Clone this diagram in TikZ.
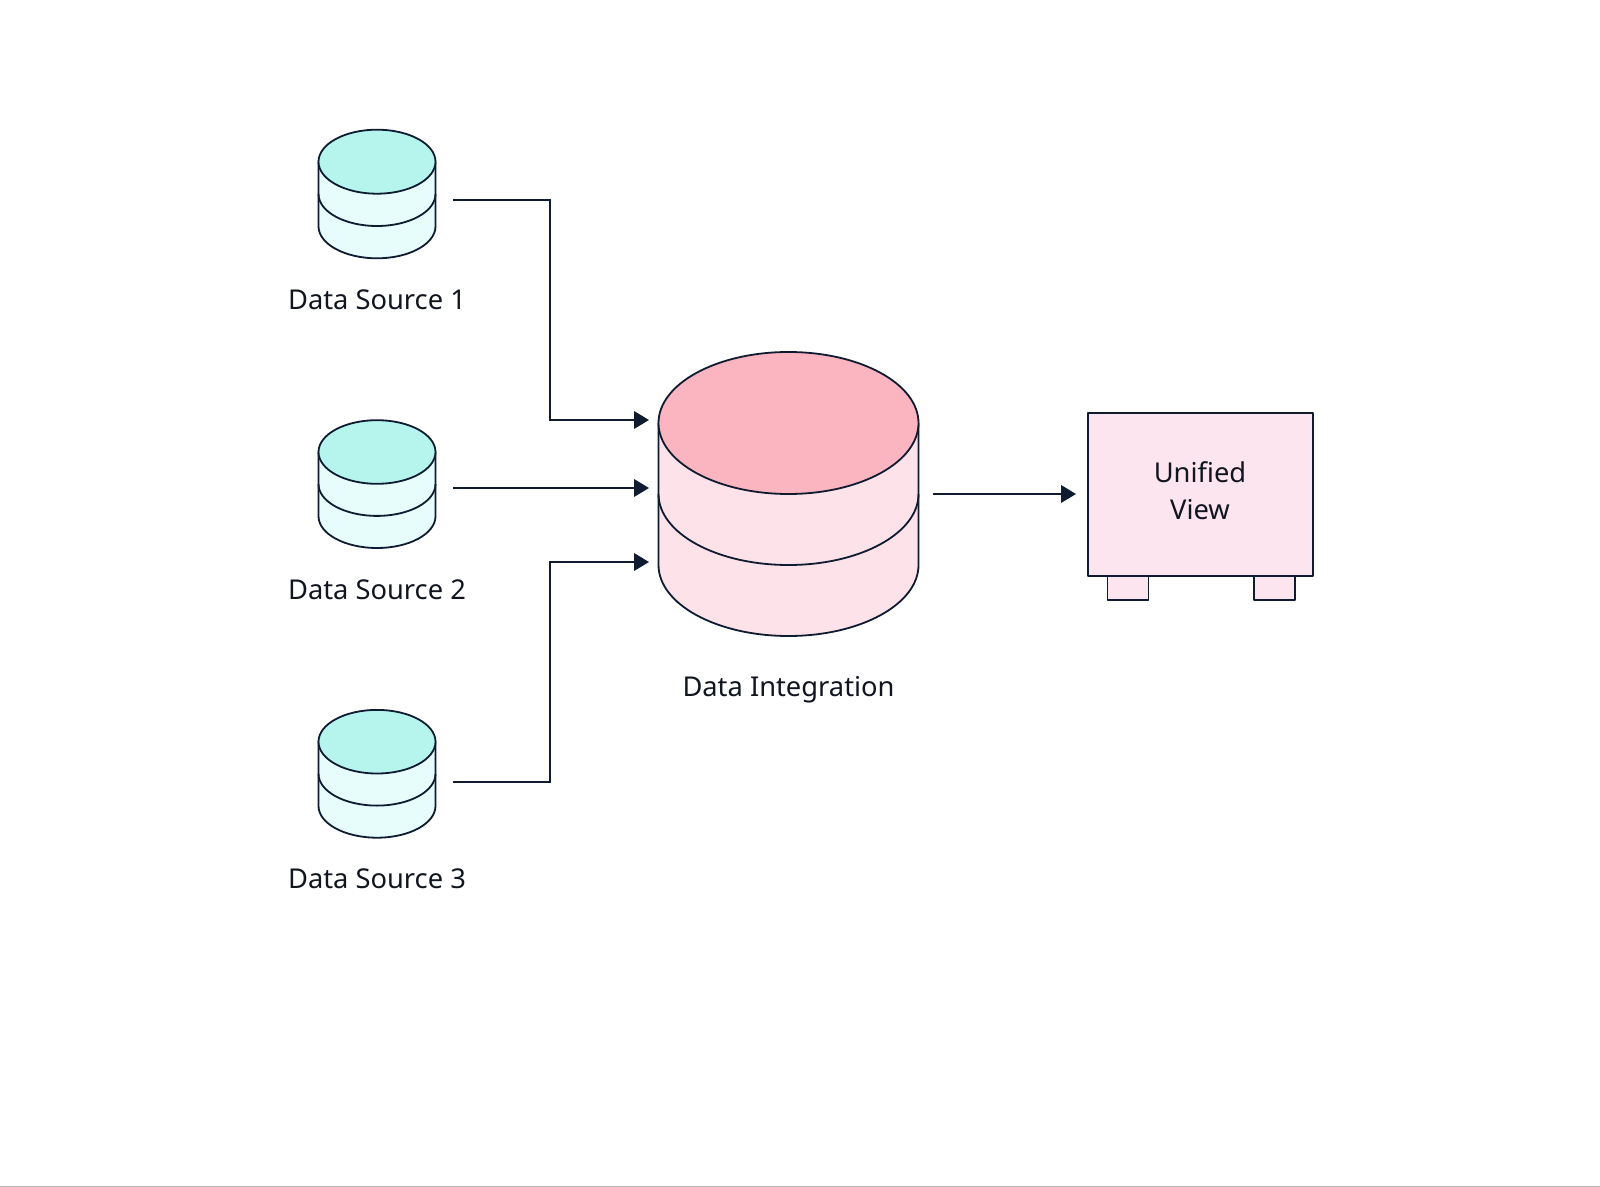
\documentclass[tikz,border=0pt]{standalone}
\usepackage{fontspec}
\setmainfont{Noto Sans}
\usetikzlibrary{arrows.meta}
\definecolor{inkline}{HTML}{0E1B30}
\definecolor{inktext}{HTML}{10151F}
\definecolor{tealtop}{HTML}{B6F5EE}
\definecolor{tealbody}{HTML}{E6FDFB}
\definecolor{rosetop}{HTML}{FBB5C1}
\definecolor{rosebody}{HTML}{FDE3E9}
\definecolor{viewfill}{HTML}{FDE5F0}
\tikzset{
  outline/.style={draw=inkline,line width=0.9pt,line join=round},
  flow/.style={draw=inkline,line width=0.9pt,-{Triangle[length=7.5pt,width=8.8pt]}},
  caption/.style={text=inktext,font=\fontsize{13.65}{18.5}\selectfont,align=center,inner sep=0pt,anchor=base},
  unitbox/.style={outline,fill=viewfill,minimum width=112.5pt,minimum height=81.5pt,inner sep=0pt},
  footbox/.style={outline,fill=viewfill,minimum width=20.5pt,minimum height=12pt,inner sep=0pt},
  sourcebody/.style={outline,fill=tealbody},
  sourcetop/.style={outline,fill=tealtop},
  hubbody/.style={outline,fill=rosebody},
  hubtop/.style={outline,fill=rosetop}
}
% Stacked drum: centre x, top-ellipse centre y, x radius, y radius, tier height, body style, top style
\newcommand{\drumstack}[7]{
  \path[#6] ({#1-#3},#2) -- ({#1-#3},{#2+2*#5})
    arc[start angle=180,end angle=0,x radius=#3,y radius=#4]
    -- ({#1+#3},#2) -- cycle;
  \draw[outline] ({#1-#3},{#2+#5}) arc[start angle=180,end angle=0,x radius=#3,y radius=#4];
  \path[#7] (#1,#2) ellipse[x radius=#3,y radius=#4];
}
\begin{document}
\begin{tikzpicture}[x=0.5pt,y=-0.5pt]
  \useasboundingbox (0,0) rectangle (1600,1187);
  \fill[white] (0,0) rectangle (1600,1187);
  \fill[black!28] (0,1185.6) rectangle (1600,1187);

  % Source drums
  \drumstack{377}{161.7}{58.5}{32}{32.3}{sourcebody}{sourcetop}
  \drumstack{377}{452}{58.5}{31.8}{32.1}{sourcebody}{sourcetop}
  \drumstack{377}{741.7}{58.5}{31.8}{32.1}{sourcebody}{sourcetop}
  \node[caption] (label1) at (377,310) {Data Source 1};
  \node[caption] (label2) at (377,599.5) {Data Source 2};
  \node[caption] (label3) at (377,888.5) {Data Source 3};

  % Integration drum
  \drumstack{788.5}{423}{130}{71}{71}{hubbody}{hubtop}
  \node[caption] (hublabel) at (788.5,696) {Data Integration};

  % Unified view cabinet with its feet
  \node[footbox] (footl) at (1128,588) {};
  \node[footbox] (footr) at (1274.5,588) {};
  \node[unitbox] (view) at (1200.5,494.5) {};
  \node[caption] (viewtext) at (1200,482) {Unified};
  \node[caption] (viewtextb) at (1200,519) {View};

  % Connector end points
  \coordinate (out1) at (453,200);
  \coordinate (out2) at (453,488);
  \coordinate (out3) at (453,782);
  \coordinate (in1) at (649,420);
  \coordinate (in2) at (649,488);
  \coordinate (in3) at (649,562);
  \coordinate (hubout) at (933,494);
  \coordinate (viewin) at (1076,494);

  \draw[flow] (out1) -- (550,200) -- (550,420) -- (in1);
  \draw[flow] (out2) -- (in2);
  \draw[flow] (out3) -- (550,782) -- (550,562) -- (in3);
  \draw[flow] (hubout) -- (viewin);
\end{tikzpicture}
\end{document}
